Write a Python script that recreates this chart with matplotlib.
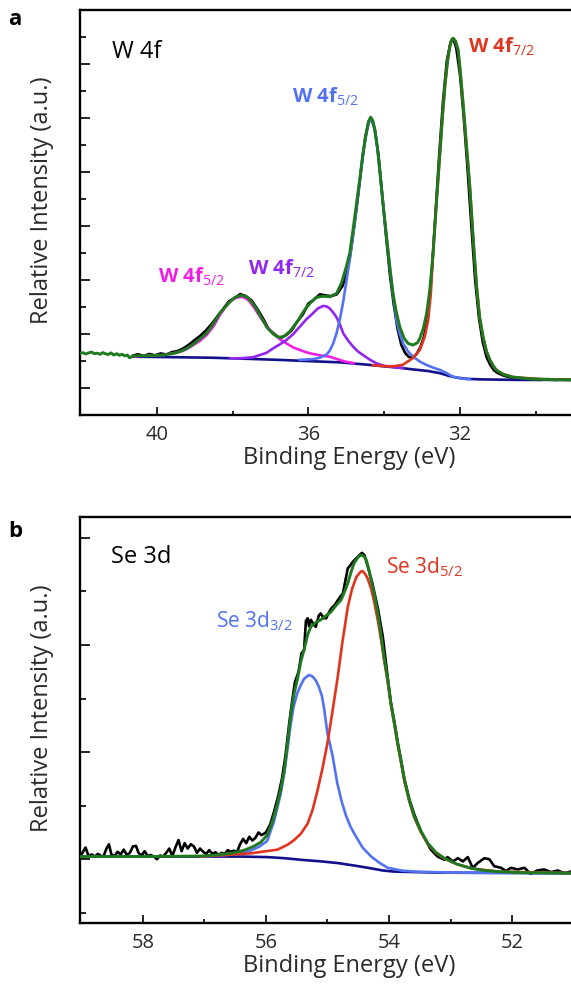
"""XPS core-level spectra: W 4f (a) and Se 3d (b) with fitted components."""

import matplotlib

matplotlib.use("Agg")
import matplotlib.pyplot as plt
from matplotlib.ticker import FixedLocator

plt.rcParams["font.family"] = ["Open Sans", "DejaVu Sans"]
plt.rcParams["mathtext.fontset"] = "custom"
plt.rcParams["mathtext.rm"] = "Open Sans"
plt.rcParams["mathtext.it"] = "Open Sans:italic"
plt.rcParams["mathtext.bf"] = "Open Sans:bold"

C_DATA = "black"
C_FIT = "#1f7a1f"
C_BASE = "#11118c"
C_BLUE = "#5272f2"
C_RED = "#e0341f"
C_MAG = "#f21ee6"
C_PUR = "#9226ee"
C_TEXT = "#2a2a2a"

# ---------------- panel a: W 4f ----------------
W_XTICKS = [40, 36, 32]
W_XMINOR = [38, 34, 30, 28]

W_FIT_EV = [42.03, 41.95, 41.88, 41.80, 41.72, 41.65, 41.58, 41.50, 41.43, 41.36,
            41.28, 41.21, 41.14, 41.06, 40.99, 40.92, 40.85, 40.78, 40.72, 40.66,
            40.60, 40.20, 39.83, 39.50, 39.30, 39.04, 38.80, 38.69, 38.50, 38.34,
            38.10, 37.95, 37.77, 37.60, 37.40, 37.28, 37.10, 36.93, 36.80, 36.65,
            36.49, 36.30, 36.10, 35.95, 35.80, 35.62, 35.44, 35.26, 35.13, 35.00,
            34.91, 34.82, 34.73, 34.64, 34.56, 34.48, 34.42, 34.36, 34.30, 34.25,
            34.18, 34.12, 34.03, 33.94, 33.85, 33.77, 33.68, 33.59, 33.48, 33.37,
            33.24, 33.12, 33.06, 32.97, 32.88, 32.80, 32.71, 32.62, 32.53, 32.46,
            32.40, 32.33, 32.27, 32.22, 32.18, 32.12, 32.05, 31.99, 31.92, 31.83,
            31.74, 31.65, 31.56, 31.48, 31.39, 31.30, 31.21, 31.12, 31.05, 30.85,
            30.62, 30.16, 29.60, 29.00]
W_FIT_I = [2.28, 2.31, 2.26, 2.30, 2.33, 2.27, 2.29, 2.25, 2.31, 2.27,
           2.24, 2.30, 2.22, 2.27, 2.21, 2.25, 2.19, 2.22, 2.12, 2.16,
           2.19, 2.20, 2.22, 2.30, 2.40, 2.62, 2.90, 3.03, 3.40, 3.77,
           4.15, 4.35, 4.44, 4.35, 4.00, 3.70, 3.25, 3.00, 2.88, 2.90,
           3.10, 3.45, 3.90, 4.15, 4.35, 4.40, 4.38, 4.50, 4.88, 5.50,
           6.00, 6.90, 7.85, 8.80, 9.70, 10.40, 10.85, 11.03, 10.90, 10.56,
           9.90, 9.07, 7.80, 6.60, 5.45, 4.51, 3.80, 3.27, 2.85, 2.65,
           2.59, 2.68, 2.84, 3.20, 3.77, 4.60, 6.00, 7.90, 9.70, 11.10,
           12.15, 13.10, 13.64, 13.90, 13.95, 13.85, 13.52, 12.70, 11.56, 10.00,
           8.44, 6.50, 4.74, 3.60, 2.89, 2.35, 2.04, 1.82, 1.67, 1.50,
           1.41, 1.34, 1.31, 1.30]

W_DATA_EV = [40.63, 40.50, 40.35, 40.20, 40.05, 39.90, 39.75, 39.60, 39.45, 39.30,
             39.15, 39.00, 38.85, 38.70, 38.55, 38.40, 38.25, 38.10, 37.95, 37.80,
             37.65, 37.50, 37.35, 37.20, 37.05, 36.90, 36.75, 36.60, 36.45, 36.30,
             36.15, 36.00, 35.85, 35.70, 35.55, 35.40, 35.25, 35.10, 35.00, 34.90,
             34.80, 34.70, 34.60, 34.50, 34.40, 34.35, 34.25, 34.15, 34.05, 33.95,
             33.85, 33.75, 33.65, 33.55, 33.45, 33.35, 33.25, 33.15, 33.05, 32.95,
             32.85, 32.75, 32.65, 32.55, 32.45, 32.35, 32.25, 32.18, 32.10, 32.00,
             31.90, 31.80, 31.70, 31.60, 31.50, 31.40, 31.30, 31.20, 31.10, 31.00,
             30.85, 30.70, 30.55, 30.40, 30.25, 30.10, 29.90, 29.70, 29.50, 29.30,
             29.00]
W_DATA_I = [2.20, 2.25, 2.19, 2.26, 2.21, 2.28, 2.24, 2.33, 2.37, 2.47,
            2.61, 2.78, 2.94, 3.14, 3.38, 3.66, 3.93, 4.21, 4.33, 4.48,
            4.40, 4.24, 3.93, 3.58, 3.18, 3.00, 2.84, 2.95, 3.12, 3.45,
            3.72, 4.13, 4.28, 4.47, 4.43, 4.40, 4.47, 4.78, 5.20, 5.90,
            6.90, 8.00, 9.20, 10.30, 10.90, 11.00, 10.60, 9.60, 8.10, 6.60,
            5.20, 4.10, 3.20, 2.60, 2.30, 2.15, 2.12, 2.25, 2.50, 2.90,
            3.60, 5.20, 7.40, 9.60, 11.60, 13.10, 13.80, 13.95, 13.60, 12.60,
            11.00, 9.10, 7.00, 5.00, 3.60, 2.70, 2.15, 1.85, 1.65, 1.55,
            1.46, 1.40, 1.37, 1.34, 1.33, 1.32, 1.30, 1.33, 1.30, 1.31,
            1.30]

W_BASE_EV = [40.63, 39.50, 38.52, 37.60, 36.75, 35.90, 35.17, 34.50, 33.98, 33.60,
             33.25, 32.85, 32.53, 32.30, 32.08, 31.80, 31.48, 30.50, 29.00]
W_BASE_I = [2.16, 2.14, 2.12, 2.08, 2.04, 1.99, 1.95, 1.87, 1.80, 1.75,
            1.69, 1.63, 1.55, 1.45, 1.38, 1.34, 1.32, 1.30, 1.30]

W72_EV = [34.30, 34.00, 33.77, 33.51, 33.25, 33.06, 32.93, 32.84, 32.77, 32.71,
          32.62, 32.53, 32.46, 32.40, 32.33, 32.27, 32.22, 32.18, 32.12, 32.05,
          31.99, 31.92, 31.83, 31.74, 31.65, 31.56, 31.48, 31.39, 31.30, 31.21,
          31.12, 31.00, 30.87, 30.60, 30.16, 29.60, 29.00]
W72_I = [1.84, 1.81, 1.80, 1.86, 2.10, 2.41, 2.90, 3.52, 4.50, 6.00,
         7.90, 9.70, 11.10, 12.15, 13.10, 13.64, 13.90, 13.95, 13.85, 13.52,
         12.70, 11.56, 10.00, 8.44, 6.50, 4.74, 3.60, 2.89, 2.35, 2.04,
         1.80, 1.62, 1.52, 1.40, 1.36, 1.31, 1.30]

W52_EV = [36.23, 35.88, 35.70, 35.52, 35.44, 35.35, 35.26, 35.17, 35.08, 35.00,
          34.91, 34.82, 34.73, 34.64, 34.56, 34.48, 34.42, 34.36, 34.30, 34.25,
          34.18, 34.12, 34.03, 33.94, 33.85, 33.77, 33.68, 33.59, 33.50, 33.37,
          33.24, 33.05, 32.88, 32.70, 32.53, 32.35, 32.19, 31.95, 31.74]
W52_I = [2.04, 2.07, 2.12, 2.24, 2.38, 2.64, 3.02, 3.55, 4.22, 4.95,
         5.74, 6.70, 7.72, 8.75, 9.69, 10.35, 10.80, 10.93, 10.85, 10.56,
         9.90, 9.07, 7.80, 6.60, 5.45, 4.51, 3.52, 3.00, 2.65, 2.35,
         2.16, 1.97, 1.85, 1.75, 1.67, 1.55, 1.42, 1.35, 1.32]

WOX52_EV = [40.60, 40.45, 39.83, 39.39, 39.20, 39.04, 38.86, 38.69, 38.50, 38.34,
            38.20, 38.07, 37.92, 37.77, 37.65, 37.55, 37.42, 37.28, 37.10, 36.93,
            36.75, 36.58, 36.40, 36.23, 36.05, 35.88, 35.66, 35.44, 35.20, 35.04,
            34.80]
WOX52_I = [2.16, 2.19, 2.22, 2.34, 2.45, 2.59, 2.75, 2.96, 3.30, 3.70,
           3.98, 4.20, 4.34, 4.38, 4.32, 4.20, 3.95, 3.64, 3.28, 3.02,
           2.80, 2.65, 2.50, 2.41, 2.32, 2.26, 2.20, 2.16, 2.05, 1.98,
           1.92]

WOX72_EV = [38.07, 37.80, 37.46, 37.11, 36.93, 36.75, 36.58, 36.40, 36.23, 36.05,
            35.88, 35.75, 35.61, 35.52, 35.44, 35.35, 35.26, 35.17, 35.08, 34.95,
            34.82, 34.70, 34.56, 34.38, 34.20, 34.00, 33.85, 33.51]
WOX72_I = [2.10, 2.10, 2.14, 2.30, 2.47, 2.62, 2.78, 3.00, 3.27, 3.55,
           3.77, 3.95, 4.04, 4.02, 3.95, 3.80, 3.62, 3.35, 3.02, 2.75,
           2.53, 2.36, 2.22, 2.05, 1.91, 1.82, 1.79, 1.74]

# ---------------- panel b: Se 3d ----------------
SE_XTICKS = [58, 56, 54, 52]
SE_XMINOR = [57, 55, 53, 51]

SE_FIT_EV = [59.02, 58.00, 57.06, 56.80, 56.52, 56.35, 56.20, 56.08, 55.98, 55.92,
             55.87, 55.81, 55.76, 55.70, 55.65, 55.60, 55.55, 55.49, 55.43, 55.38,
             55.32, 55.27, 55.19, 55.11, 55.02, 54.94, 54.86, 54.78, 54.72, 54.67,
             54.62, 54.57, 54.51, 54.46, 54.41, 54.37, 54.33, 54.29, 54.24, 54.18,
             54.13, 54.08, 54.02, 53.97, 53.91, 53.86, 53.80, 53.75, 53.67, 53.59,
             53.48, 53.37, 53.24, 53.10, 52.90, 52.66, 52.45, 52.23, 51.80, 51.00]
SE_FIT_I = [1.05, 1.05, 1.06, 1.08, 1.12, 1.17, 1.24, 1.32, 1.45, 1.62,
            1.80, 2.05, 2.30, 2.67, 3.15, 3.66, 4.05, 4.35, 4.70, 4.91,
            5.20, 5.34, 5.42, 5.47, 5.55, 5.62, 5.74, 5.84, 6.00, 6.15,
            6.35, 6.52, 6.63, 6.68, 6.66, 6.59, 6.42, 6.21, 5.95, 5.59,
            5.20, 4.78, 4.35, 3.91, 3.52, 3.17, 2.80, 2.48, 2.10, 1.80,
            1.52, 1.30, 1.13, 1.02, 0.91, 0.83, 0.79, 0.77, 0.75, 0.74]

SE_DATA_EV = [59.02, 58.98, 58.93, 58.88, 58.83, 58.78, 58.73, 58.69, 58.64, 58.59,
              58.55, 58.51, 58.46, 58.41, 58.36, 58.31, 58.26, 58.21, 58.16, 58.11,
              58.07, 58.02, 57.97, 57.92, 57.87, 57.82, 57.77, 57.72, 57.67, 57.62,
              57.57, 57.52, 57.47, 57.42, 57.37, 57.32, 57.27, 57.22, 57.17, 57.12,
              57.07, 57.02, 56.97, 56.92, 56.87, 56.82, 56.77, 56.72, 56.67, 56.62,
              56.57, 56.52, 56.47, 56.42, 56.37, 56.32, 56.27, 56.22, 56.17, 56.12,
              56.07, 56.00, 55.93, 55.87, 55.80, 55.74, 55.68, 55.62, 55.57, 55.53,
              55.47, 55.42, 55.38, 55.35, 55.32, 55.30, 55.27, 55.22, 55.19, 55.14,
              55.11, 55.06, 55.02, 54.98, 54.94, 54.88, 54.83, 54.78, 54.75, 54.71,
              54.67, 54.62, 54.59, 54.53, 54.48, 54.44, 54.40, 54.35, 54.27, 54.18,
              54.10, 54.02, 53.97, 53.91, 53.86, 53.80, 53.75, 53.67, 53.59, 53.48,
              53.32, 53.21, 53.10, 53.05, 52.96, 52.88, 52.80, 52.72, 52.64, 52.56,
              52.45, 52.37, 52.29, 52.18, 52.10, 52.02, 51.91, 51.80, 51.70, 51.59,
              51.48, 51.37, 51.26, 51.15, 51.05, 51.00]
SE_DATA_I = [1.05, 1.12, 1.22, 1.06, 1.09, 1.05, 1.10, 1.07, 1.05, 1.20,
             1.28, 1.09, 1.06, 1.14, 1.09, 1.18, 1.08, 1.12, 1.24, 1.25,
             1.12, 1.07, 1.15, 1.06, 1.08, 1.05, 1.00, 1.07, 1.05, 1.12,
             1.20, 1.06, 1.22, 1.36, 1.15, 1.30, 1.20, 1.28, 1.24, 1.12,
             1.20, 1.14, 1.10, 1.17, 1.10, 1.13, 1.08, 1.12, 1.10, 1.17,
             1.14, 1.16, 1.13, 1.28, 1.38, 1.30, 1.42, 1.35, 1.40, 1.50,
             1.45, 1.50, 1.65, 1.88, 2.18, 2.50, 2.95, 3.55, 3.98, 4.30,
             4.50, 4.85, 4.90, 5.45, 5.50, 5.35, 5.47, 5.38, 5.34, 5.55,
             5.59, 5.50, 5.50, 5.60, 5.68, 5.75, 5.84, 5.92, 5.96, 6.20,
             6.43, 6.50, 6.55, 6.62, 6.68, 6.72, 6.68, 6.49, 6.15, 5.68,
             5.15, 4.38, 3.93, 3.55, 3.19, 2.82, 2.50, 2.12, 1.84, 1.52,
             1.18, 1.05, 0.99, 1.04, 0.96, 1.02, 0.96, 1.04, 0.84, 0.93,
             1.02, 1.00, 0.87, 0.84, 0.78, 0.84, 0.81, 0.84, 0.73, 0.79,
             0.81, 0.76, 0.79, 0.74, 0.77, 0.75]

SE_BASE_EV = [59.02, 57.06, 56.40, 55.97, 55.70, 55.43, 55.10, 54.84, 54.55, 54.29,
              54.10, 53.92, 53.20, 51.00]
SE_BASE_I = [1.05, 1.05, 1.05, 1.04, 1.02, 0.99, 0.96, 0.93, 0.88, 0.83,
             0.79, 0.77, 0.75, 0.74]

SE52_EV = [57.06, 56.25, 55.81, 55.65, 55.54, 55.43, 55.32, 55.24, 55.16, 55.08,
           55.00, 54.92, 54.84, 54.76, 54.67, 54.60, 54.53, 54.46, 54.43, 54.39,
           54.35, 54.29, 54.24, 54.18, 54.13, 54.08, 54.02, 53.97, 53.91, 53.86,
           53.80, 53.75, 53.67, 53.59, 53.48, 53.37, 53.24, 53.10, 52.90, 52.66,
           52.23, 51.00]
SE52_I = [1.05, 1.11, 1.18, 1.27, 1.36, 1.48, 1.67, 1.93, 2.29, 2.70,
          3.17, 3.75, 4.35, 5.03, 5.71, 6.05, 6.27, 6.37, 6.38, 6.33,
          6.25, 6.05, 5.80, 5.45, 5.10, 4.72, 4.30, 3.88, 3.50, 3.15,
          2.78, 2.46, 2.08, 1.78, 1.50, 1.29, 1.12, 1.01, 0.91, 0.83,
          0.77, 0.74]

SE32_EV = [57.06, 56.52, 56.25, 56.10, 55.98, 55.87, 55.76, 55.70, 55.65, 55.60,
           55.55, 55.49, 55.43, 55.38, 55.30, 55.24, 55.19, 55.14, 55.09, 55.05,
           55.00, 54.92, 54.84, 54.77, 54.70, 54.63, 54.57, 54.43, 54.29, 54.15,
           54.02, 53.80, 53.59, 52.99, 51.00]
SE32_I = [1.05, 1.09, 1.16, 1.24, 1.34, 1.70, 2.22, 2.62, 3.05, 3.50,
          3.85, 4.10, 4.26, 4.37, 4.44, 4.41, 4.34, 4.22, 4.05, 3.78,
          3.35, 2.95, 2.42, 2.08, 1.82, 1.62, 1.49, 1.22, 1.05, 0.93,
          0.84, 0.79, 0.77, 0.75, 0.74]


def style_axes(ax, xlim, ylim, xticks, xminor, ymajor, yminor):
    ax.set_xlim(*xlim)
    ax.set_ylim(*ylim)
    ax.xaxis.set_major_locator(FixedLocator(xticks))
    ax.xaxis.set_minor_locator(FixedLocator(xminor))
    ax.yaxis.set_major_locator(FixedLocator(ymajor))
    ax.yaxis.set_minor_locator(FixedLocator(yminor))
    ax.tick_params(axis="x", which="major", direction="in", length=6, width=1.2,
                   pad=7, labelsize=14.5, labelcolor=C_TEXT)
    ax.tick_params(axis="x", which="minor", direction="in", length=3, width=1.2)
    ax.tick_params(axis="y", which="major", direction="in", length=7.5, width=1.2,
                   labelleft=False)
    ax.tick_params(axis="y", which="minor", direction="in", length=4.5, width=1.2)
    for side in ("left", "bottom", "top", "right"):
        ax.spines[side].set_linewidth(1.7)
    ax.set_xlabel("Binding Energy (eV)", fontsize=17, color=C_TEXT, labelpad=1)
    ax.text(-0.0713, 0.53, "Relative Intensity (a.u.)", transform=ax.transAxes,
            rotation=90, ha="center", va="center", fontsize=17, color=C_TEXT)


def main():
    fig = plt.figure(figsize=(5.71, 9.88), dpi=100)
    ax_a = fig.add_axes([80 / 571, 1 - 415 / 988, 538 / 571, 405 / 988])
    ax_b = fig.add_axes([80 / 571, 1 - 923 / 988, 538 / 571, 406 / 988])

    # ---- panel a ----
    ax_a.plot(W_DATA_EV, W_DATA_I, color=C_DATA, lw=1.9, zorder=2)
    ax_a.plot(W_BASE_EV, W_BASE_I, color=C_BASE, lw=1.9, zorder=3)
    ax_a.plot(WOX52_EV, WOX52_I, color=C_MAG, lw=1.9, zorder=3)
    ax_a.plot(WOX72_EV, WOX72_I, color=C_PUR, lw=1.9, zorder=3)
    ax_a.plot(W52_EV, W52_I, color=C_BLUE, lw=1.9, zorder=3)
    ax_a.plot(W72_EV, W72_I, color=C_RED, lw=1.9, zorder=3)
    ax_a.plot(W_FIT_EV, W_FIT_I, color=C_FIT, lw=2.1, zorder=4)
    style_axes(ax_a, (42.03, 27.83), (0, 15), W_XTICKS, W_XMINOR,
               [1, 3, 5, 7, 9, 11, 13], [2, 4, 6, 8, 10, 12, 14])

    ax_a.text(41.19, 13.22, "W 4f", fontsize=17, color="black")
    ax_a.text(31.79, 13.4, r"W 4f$_{7/2}$", fontsize=14.5, fontweight="bold", color=C_RED)
    ax_a.text(36.44, 11.56, r"W 4f$_{5/2}$", fontsize=14.5, fontweight="bold", color=C_BLUE)
    ax_a.text(39.97, 4.89, r"W 4f$_{5/2}$", fontsize=14.5, fontweight="bold", color=C_MAG)
    ax_a.text(37.60, 5.19, r"W 4f$_{7/2}$", fontsize=14.5, fontweight="bold", color=C_PUR)

    # ---- panel b ----
    ax_b.plot(SE_DATA_EV, SE_DATA_I, color=C_DATA, lw=1.9, zorder=2)
    ax_b.plot(SE_BASE_EV, SE_BASE_I, color=C_BASE, lw=1.9, zorder=3)
    ax_b.plot(SE32_EV, SE32_I, color=C_BLUE, lw=1.9, zorder=3)
    ax_b.plot(SE52_EV, SE52_I, color=C_RED, lw=1.9, zorder=3)
    ax_b.plot(SE_FIT_EV, SE_FIT_I, color=C_FIT, lw=2.1, zorder=4)
    style_axes(ax_b, (59.02, 50.28), (-0.19, 7.39), SE_XTICKS, SE_XMINOR,
               [1, 3, 5, 7], [0, 2, 4, 6])

    ax_b.text(58.52, 6.53, "Se 3d", fontsize=17, color="black")
    ax_b.text(56.81, 5.32, r"Se 3d$_{3/2}$", fontsize=15, color=C_BLUE)
    ax_b.text(54.05, 6.34, r"Se 3d$_{5/2}$", fontsize=15, color=C_RED)

    fig.text(8 / 571, 1 - 25 / 988, "a", fontsize=16, fontweight="bold", va="baseline")
    fig.text(8 / 571, 1 - 537 / 988, "b", fontsize=16, fontweight="bold", va="baseline")

    fig.savefig("out.png", dpi=100)
    plt.close(fig)


if __name__ == "__main__":
    main()
